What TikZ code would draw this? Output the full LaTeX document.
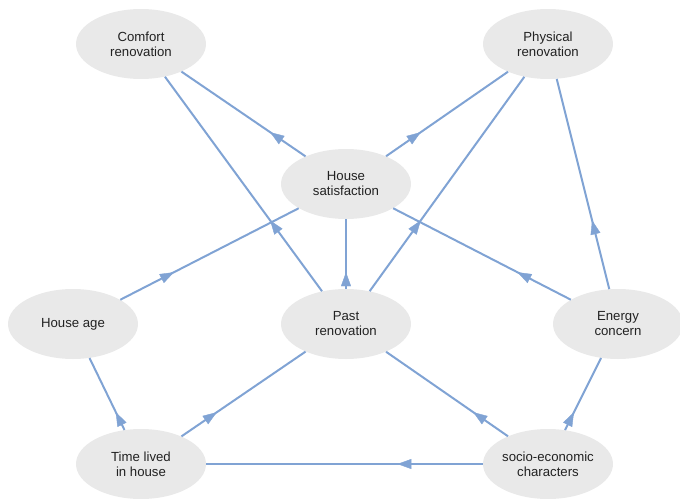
\documentclass[tikz,border=0pt]{standalone}
\usepackage{fontspec}
\setmainfont{Liberation Sans}
\usetikzlibrary{shapes.geometric,arrows.meta,decorations.markings}
\definecolor{edgeblue}{RGB}{128,163,212}
\definecolor{nodegray}{RGB}{233,233,233}
\definecolor{txt}{RGB}{34,34,34}
\tikzset{
 var/.style={ellipse, fill=nodegray, draw=none, minimum width=130pt, minimum height=70pt, inner sep=0pt, align=center, text=txt, font=\fontsize{13.2}{15}\selectfont},
 edge/.style={draw=edgeblue, line width=2pt},
 tipmark/.style={postaction={decorate}, decoration={markings, mark=at position 0.37 with {\arrow[edgeblue]{Triangle[length=14pt,width=10pt]}}}},
}
\begin{document}
\begin{tikzpicture}[x=1pt,y=-1pt]
\useasboundingbox (0,0) rectangle (680,498);
\node[var] (cr) at (141,44) {Comfort\\renovation};
\node[var] (pr) at (548,44) {Physical\\renovation};
\node[var] (hs) at (346,184) {House\\satisfaction};
\node[var] (ha) at (73,324) {House age};
\node[var] (past) at (346,324) {Past\\renovation};
\node[var] (ec) at (618,324) {Energy\\concern};
\node[var] (tl) at (141,464) {Time lived\\in house};
\node[var] (se) at (548,464) {socio-economic\\characters};
\foreach \s/\t in {hs/cr, hs/pr, past/cr, past/pr, ec/pr, past/hs, ha/hs, ec/hs, tl/ha, tl/past, se/past, se/ec, se/tl}{
  \draw[edge] (\s) -- (\t);
  \path[tipmark] (\s.center) -- (\t.center);
}
\end{tikzpicture}
\end{document}
